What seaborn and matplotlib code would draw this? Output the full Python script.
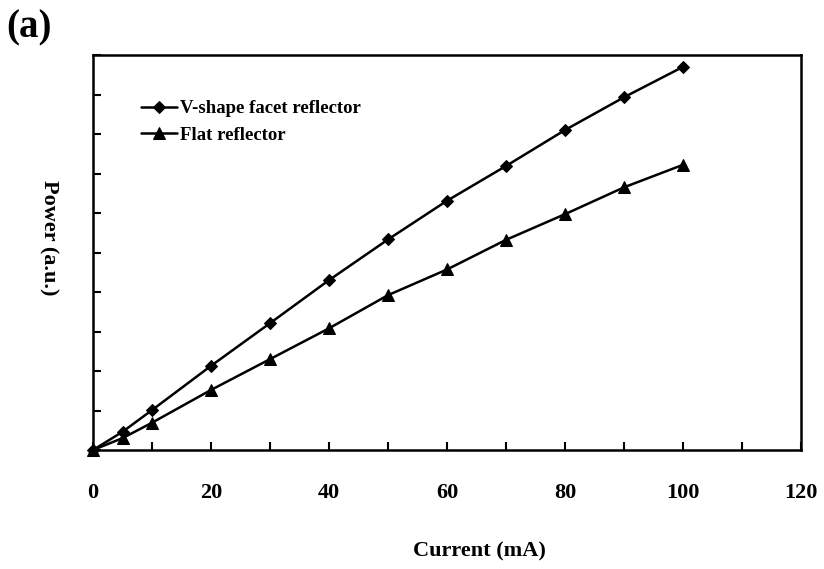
import numpy as np
import pandas as pd
import seaborn as sns
import matplotlib
matplotlib.use("Agg")
from matplotlib import pyplot as plt
from matplotlib.ticker import MultipleLocator, FuncFormatter

# Data (power in arbitrary units, 10 tick divisions)
current = [0, 5, 10, 20, 30, 40, 50, 60, 70, 80, 90, 100]
power_vshape = [0.0, 0.46, 1.01, 2.13, 3.21, 4.30, 5.33, 6.31, 7.19, 8.10, 8.93, 9.70]
power_flat = [0.0, 0.30, 0.69, 1.52, 2.30, 3.08, 3.92, 4.57, 5.32, 5.97, 6.65, 7.22]
series_names = ["V-shape facet reflector", "Flat reflector"]

df = pd.DataFrame({
    "Current": current * 2,
    "Power": power_vshape + power_flat,
    "series": [series_names[0]] * len(current) + [series_names[1]] * len(current),
})

sns.set_theme(style="ticks")
plt.rcParams['font.family'] = ['Liberation Serif', 'DejaVu Serif']
for key in ["text.color", "axes.labelcolor", "xtick.color", "ytick.color", "axes.edgecolor"]:
    plt.rcParams[key] = "black"

fig = plt.figure(figsize=(8.24, 5.69), dpi=100)
ax = fig.add_axes([93/824, 1 - 450/569, 708/824, 395/569])

sns.lineplot(data=df, x="Current", y="Power", hue="series", style="series",
             markers={series_names[0]: "D", series_names[1]: "^"}, dashes=False,
             palette={series_names[0]: "black", series_names[1]: "black"},
             linewidth=1.8, markersize=7, markeredgecolor="black",
             ax=ax, clip_on=False)
# diamonds a touch smaller, triangles a touch bigger
for ln in ax.lines:
    if ln.get_marker() == "D":
        ln.set_markersize(6.5)
    elif ln.get_marker() == "^":
        ln.set_markersize(8.5)

ax.set_xlim(0, 120)
ax.set_ylim(0, 10)
ax.xaxis.set_major_locator(MultipleLocator(10))
ax.xaxis.set_major_formatter(FuncFormatter(lambda v, p: f"{int(v)}" if int(round(v)) % 20 == 0 else ""))
ax.yaxis.set_major_locator(MultipleLocator(1))
ax.set_yticklabels([])
ax.tick_params(axis="both", direction="in", length=6, width=1.5, color="black")
ax.tick_params(axis="x", pad=24, labelsize=16)
for lab in ax.get_xticklabels():
    lab.set_fontweight("bold")
for sp in ax.spines.values():
    sp.set_visible(True)
    sp.set_linewidth(1.8)
    sp.set_color("black")

ax.set_xlabel("Current (mA)", fontsize=16, fontweight="bold")
ax.xaxis.set_label_coords((479 - 93) / 708, -(541 - 450) / 395)
ax.set_ylabel("")
fig.text(49/824, 1 - 238/569, "Power (a.u.)", rotation=-90, ha="center", va="center",
         fontsize=16, fontweight="bold")
fig.text(6/824, 1 - 28/569, "(a)", ha="left", va="center", fontsize=28, fontweight="bold")

leg = ax.legend(loc="upper left", bbox_to_anchor=((141 - 93) / 708, 1 - (100 - 55) / 395),
                frameon=False, prop={"size": 13.5, "weight": "bold"}, handlelength=1.9,
                handletextpad=0.2, labelspacing=0.5, borderpad=0, borderaxespad=0)

fig.savefig("out.png", dpi=100, facecolor="white")
